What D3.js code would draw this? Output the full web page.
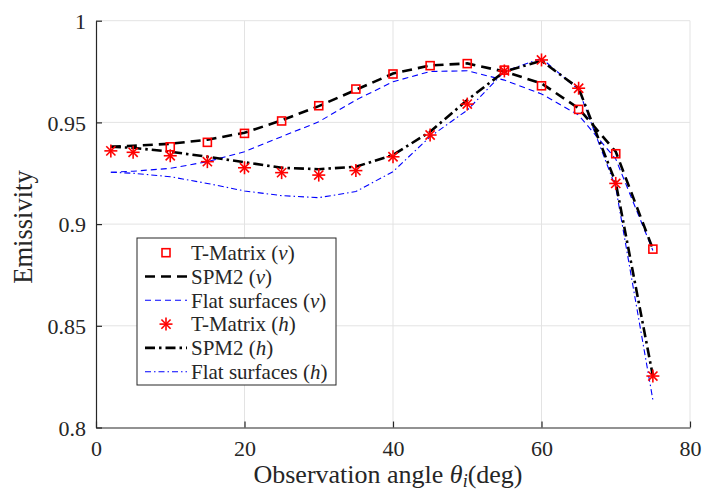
<!DOCTYPE html>
<html><head><meta charset="utf-8">
<script src="https://cdn.jsdelivr.net/npm/d3@7"></script>
<style>body{margin:0;background:#fff}svg{display:block}text{font-family:"Liberation Serif","Times New Roman",serif;fill:#262626}</style>
</head><body>
<svg id="c" width="703" height="493"></svg>
<script>
const angles = [2,5,10,15,20,25,30,35,40,45,50,55,60,65,70,75];
const tmatV_x = [10,15,20,25,30,35,40,45,50,55,60,65,70,75];
const tmatV = [0.938,0.9402,0.9446,0.9507,0.9582,0.9664,0.9738,0.9779,0.9789,0.9757,0.968,0.9564,0.9346,0.8877];
const spm2V = [0.938,0.9385,0.9395,0.9415,0.9449,0.951,0.958,0.966,0.974,0.978,0.979,0.975,0.9692,0.9569,0.9356,0.8877];
const flatV = [0.9255,0.926,0.9274,0.9307,0.9356,0.943,0.9503,0.961,0.970,0.975,0.9754,0.9708,0.964,0.9536,0.932,0.887];
const tmatH = [0.936,0.9353,0.9336,0.9307,0.9277,0.9253,0.9241,0.9263,0.9331,0.9438,0.959,0.9753,0.9807,0.9668,0.920,0.8253];
const spm2H = [0.938,0.9375,0.9356,0.9331,0.9304,0.9277,0.927,0.9282,0.934,0.9454,0.961,0.975,0.9803,0.9668,0.9204,0.8253];
const flatH = [0.9255,0.925,0.9233,0.920,0.9163,0.914,0.913,0.916,0.9258,0.943,0.956,0.975,0.9815,0.966,0.918,0.8136];
const xTicks = [0,20,40,60,80];
const yTicks = [0.8,0.85,0.9,0.95,1];
const yTickLabels = ["0.8","0.85","0.9","0.95","1"];
const legendItems = [
  {label:"T-Matrix ", pol:"v", type:"square"},
  {label:"SPM2 ", pol:"v", type:"spm2v"},
  {label:"Flat surfaces ", pol:"v", type:"flatv"},
  {label:"T-Matrix ", pol:"h", type:"star"},
  {label:"SPM2 ", pol:"h", type:"spm2h"},
  {label:"Flat surfaces ", pol:"h", type:"flath"}
];

const svg = d3.select("#c");
const x = d3.scaleLinear().domain([0,80]).range([96,690]);
const y = d3.scaleLinear().domain([0.8,1]).range([427.5,20.7]);
const axisCol = "#262626", gridCol = "#e3e3e3";

// grid
const g = svg.append("g");
g.selectAll(".gx").data(xTicks.filter(d=>d>0)).join("line")
  .attr("x1",d=>x(d)).attr("x2",d=>x(d)).attr("y1",y(0.8)).attr("y2",y(1))
  .attr("stroke",gridCol).attr("stroke-width",1);
g.selectAll(".gy").data(yTicks.filter(d=>d>0.8)).join("line")
  .attr("x1",x(0)).attr("x2",x(80)).attr("y1",d=>y(d)).attr("y2",d=>y(d))
  .attr("stroke",gridCol).attr("stroke-width",1);

// axes
const xAxis = d3.axisBottom(x).tickValues(xTicks).tickSizeInner(-6).tickSizeOuter(0).tickPadding(13).tickFormat(d3.format("d"));
const gx = svg.append("g").attr("transform",`translate(0,${y(0.8)})`).call(xAxis);
const yAxis = d3.axisLeft(y).tickValues(yTicks).tickSizeInner(-6).tickSizeOuter(0).tickPadding(10).tickFormat((d,i)=>yTickLabels[i]);
const gy = svg.append("g").attr("transform",`translate(${x(0)},0)`).call(yAxis);
[gx,gy].forEach(a=>{
  a.select(".domain").attr("stroke",axisCol).attr("stroke-width",1.2);
  a.selectAll(".tick line").attr("stroke",axisCol).attr("stroke-width",1.2);
  a.selectAll(".tick text").attr("font-size",22).attr("font-family","Liberation Serif, serif").attr("fill",axisCol);
});
gx.selectAll(".tick text").attr("dy","0.71em");
gy.selectAll(".tick text").attr("dy","0.35em");

// lines
const line = d3.line().x(d=>x(d[0])).y(d=>y(d[1]));
const zip = (xs,ys)=>xs.map((v,i)=>[v,ys[i]]);
const styles = {
  flatv:{stroke:"#0000ff",w:1.1,dash:"6,4"},
  flath:{stroke:"#0000ff",w:1.1,dash:"6,3,1.5,3"},
  spm2v:{stroke:"#000",w:2.6,dash:"10,6"},
  spm2h:{stroke:"#000",w:2.6,dash:"10,4,2.5,4"}
};
const series = [["flatv",flatV],["flath",flatH],["spm2v",spm2V],["spm2h",spm2H]];
series.forEach(([k,vals])=>{
  const s = styles[k];
  svg.append("path").attr("d",line(zip(angles,vals))).attr("fill","none")
    .attr("stroke",s.stroke).attr("stroke-width",s.w).attr("stroke-dasharray",s.dash);
});

// markers
function star(sel,cx,cy,r){
  const gg = sel.append("g").attr("stroke","#ff0000").attr("stroke-width",1.6);
  [0,45,90,135].forEach(a=>{
    const t=a*Math.PI/180;
    gg.append("line").attr("x1",cx-r*Math.cos(t)).attr("y1",cy-r*Math.sin(t))
      .attr("x2",cx+r*Math.cos(t)).attr("y2",cy+r*Math.sin(t));
  });
}
svg.append("g").selectAll("rect").data(zip(tmatV_x,tmatV)).join("rect")
  .attr("x",d=>x(d[0])-4).attr("y",d=>y(d[1])-4).attr("width",8).attr("height",8)
  .attr("fill","none").attr("stroke","#ff0000").attr("stroke-width",1.6);
const sg = svg.append("g");
zip(angles,tmatH).forEach(d=>star(sg,x(d[0]),y(d[1]),6.5));

// legend
const lg = svg.append("g");
lg.append("rect").attr("x",137).attr("y",238).attr("width",199).attr("height",147)
  .attr("fill","#fff").attr("stroke",axisCol).attr("stroke-width",1);
legendItems.forEach((it,i)=>{
  const cy = 252.7 + i*23.8;
  if(it.type==="square"){
    lg.append("rect").attr("x",162).attr("y",cy-4).attr("width",8).attr("height",8)
      .attr("fill","none").attr("stroke","#ff0000").attr("stroke-width",1.6);
  } else if(it.type==="star"){
    star(lg,166,cy,6.5);
  } else {
    const s = styles[it.type];
    lg.append("line").attr("x1",145).attr("x2",187).attr("y1",cy).attr("y2",cy)
      .attr("stroke",s.stroke).attr("stroke-width",s.w).attr("stroke-dasharray",s.dash);
  }
  const t = lg.append("text").attr("x",191).attr("y",cy).attr("dy","0.35em").attr("font-size",21);
  t.append("tspan").text(it.label+"(");
  t.append("tspan").attr("font-style","italic").text(it.pol);
  t.append("tspan").text(")");
});

// axis labels
svg.append("text").attr("transform","translate(32,227) rotate(-90)").attr("text-anchor","middle")
  .attr("font-size",26.5).text("Emissivity");
const xl = svg.append("text").attr("x",388).attr("y",483).attr("text-anchor","middle").attr("font-size",26);
xl.append("tspan").text("Observation angle ");
xl.append("tspan").attr("font-style","italic").text("θ");
xl.append("tspan").attr("font-style","italic").attr("font-size",18).attr("dy",4).text("i");
xl.append("tspan").attr("dy",-4).text("(deg)");
</script>
</body></html>
